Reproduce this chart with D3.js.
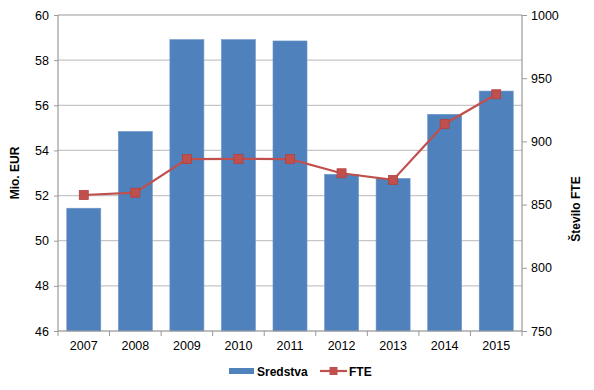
<html>
<head>
<meta charset="utf-8">
<script src="https://d3js.org/d3.v7.min.js"></script>
<style>
  body { margin: 0; background: #fff; }
  text { font-family: "Liberation Sans", Arial, sans-serif; }
</style>
</head>
<body>
<div id="chart"></div>
<script>
var years = ['2007','2008','2009','2010','2011','2012','2013','2014','2015']
var sredstva = [51.44, 54.84, 58.91, 58.91, 58.85, 52.94, 52.76, 55.6, 56.63]
var fte = [857.6, 859.4, 886, 886.2, 886, 874.8, 869.5, 913.8, 937.3]
var leftTicks = [46, 48, 50, 52, 54, 56, 58, 60]
var rightTicks = [750, 800, 850, 900, 950, 1000]

var width = 594, height = 390
var plotL = 58, plotR = 522, plotT = 15, plotB = 331

var svg = d3.select('#chart').append('svg')
    .attr('width', width)
    .attr('height', height)

var x = d3.scaleBand().domain(years).range([plotL, plotR]).paddingInner(0.34).paddingOuter(0.17)
var y = d3.scaleLinear().domain([46, 60]).range([plotB, plotT])
var y2 = d3.scaleLinear().domain([750, 1000]).range([plotB, plotT])

// gridlines
svg.append('g').selectAll('line').data(leftTicks).enter().append('line')
    .attr('x1', plotL).attr('x2', plotR)
    .attr('y1', d => y(d)).attr('y2', d => y(d))
    .attr('stroke', d => d == 60 ? '#999' : '#c6c6c6')
    .attr('stroke-width', 1.2)

// bars
svg.append('g').selectAll('rect').data(sredstva).enter().append('rect')
    .attr('x', (d, i) => x(years[i]))
    .attr('width', x.bandwidth())
    .attr('y', d => y(d))
    .attr('height', d => plotB - y(d))
    .attr('fill', '#4f81bd')
    .attr('stroke', '#6e97c8')
    .attr('stroke-width', 0.6)

// axes
var yAxis = d3.axisLeft(y).tickValues(leftTicks).tickSize(4).tickPadding(5)
var gl = svg.append('g').attr('transform', 'translate(' + plotL + ',0)').call(yAxis)
var y2Axis = d3.axisRight(y2).tickValues(rightTicks).tickFormat(d3.format('d')).tickSize(5).tickPadding(4)
var gr = svg.append('g').attr('transform', 'translate(' + plotR + ',0)').call(y2Axis)
var xAxis = d3.axisBottom(x).tickSize(0).tickPadding(10)
var gb = svg.append('g').attr('transform', 'translate(0,' + plotB + ')').call(xAxis)

// category separator ticks
var seps = d3.range(years.length + 1).map(i => plotL + i * (plotR - plotL) / years.length)
gb.selectAll('.sep').data(seps).enter().append('line')
    .attr('x1', d => d).attr('x2', d => d)
    .attr('y1', 0).attr('y2', 5)
    .attr('stroke', '#999')

;[gl, gr, gb].forEach(function(g) {
    g.select('.domain').attr('stroke', '#999').attr('stroke-width', 1.2)
    g.selectAll('.tick line').attr('stroke', '#999')
    g.selectAll('text').attr('font-size', 12.5).attr('fill', '#000')
        .style('font-family', '"Liberation Sans", Arial, sans-serif')
})
gl.select('.domain').attr('d', 'M0,' + plotT + 'V' + plotB)
gr.select('.domain').attr('d', 'M0,' + plotT + 'V' + plotB)
gb.select('.domain').attr('d', 'M' + plotL + ',0H' + plotR)

// line
var line = d3.line().x((d, i) => x(years[i]) + x.bandwidth() / 2).y(d => y2(d))
svg.append('path').datum(fte)
    .attr('d', line)
    .attr('fill', 'none')
    .attr('stroke', '#c0504d')
    .attr('stroke-width', 2.2)

svg.append('g').selectAll('rect').data(fte).enter().append('rect')
    .attr('x', (d, i) => x(years[i]) + x.bandwidth() / 2 - 4.5)
    .attr('y', d => y2(d) - 4.5)
    .attr('width', 9).attr('height', 9)
    .attr('fill', '#c0504d')
    .attr('stroke', '#b5403d')
    .attr('stroke-width', 0.8)

// axis titles
svg.append('text')
    .attr('transform', 'translate(19,' + ((plotT + plotB) / 2) + ') rotate(-90)')
    .attr('text-anchor', 'middle')
    .attr('font-size', 12).attr('font-weight', 'bold')
    .text('Mio. EUR')
svg.append('text')
    .attr('transform', 'translate(580,' + ((plotT + plotB) / 2 + 36) + ') rotate(-90)')
    .attr('text-anchor', 'middle')
    .attr('font-size', 12).attr('font-weight', 'bold')
    .text('Število FTE')

// legend
var lg = svg.append('g').attr('transform', 'translate(0,371)')
lg.append('rect').attr('x', 229).attr('y', -3).attr('width', 25).attr('height', 6).attr('fill', '#4f81bd')
lg.append('text').attr('x', 257).attr('y', 4.5).attr('font-size', 12).attr('font-weight', 'bold').text('Sredstva')
lg.append('line').attr('x1', 320).attr('x2', 347).attr('y1', 0).attr('y2', 0)
    .attr('stroke', '#c0504d').attr('stroke-width', 2.2)
lg.append('rect').attr('x', 329.5).attr('y', -4).attr('width', 8).attr('height', 8).attr('fill', '#c0504d')
lg.append('text').attr('x', 349).attr('y', 4.5).attr('font-size', 12).attr('font-weight', 'bold').text('FTE')
</script>
</body>
</html>
